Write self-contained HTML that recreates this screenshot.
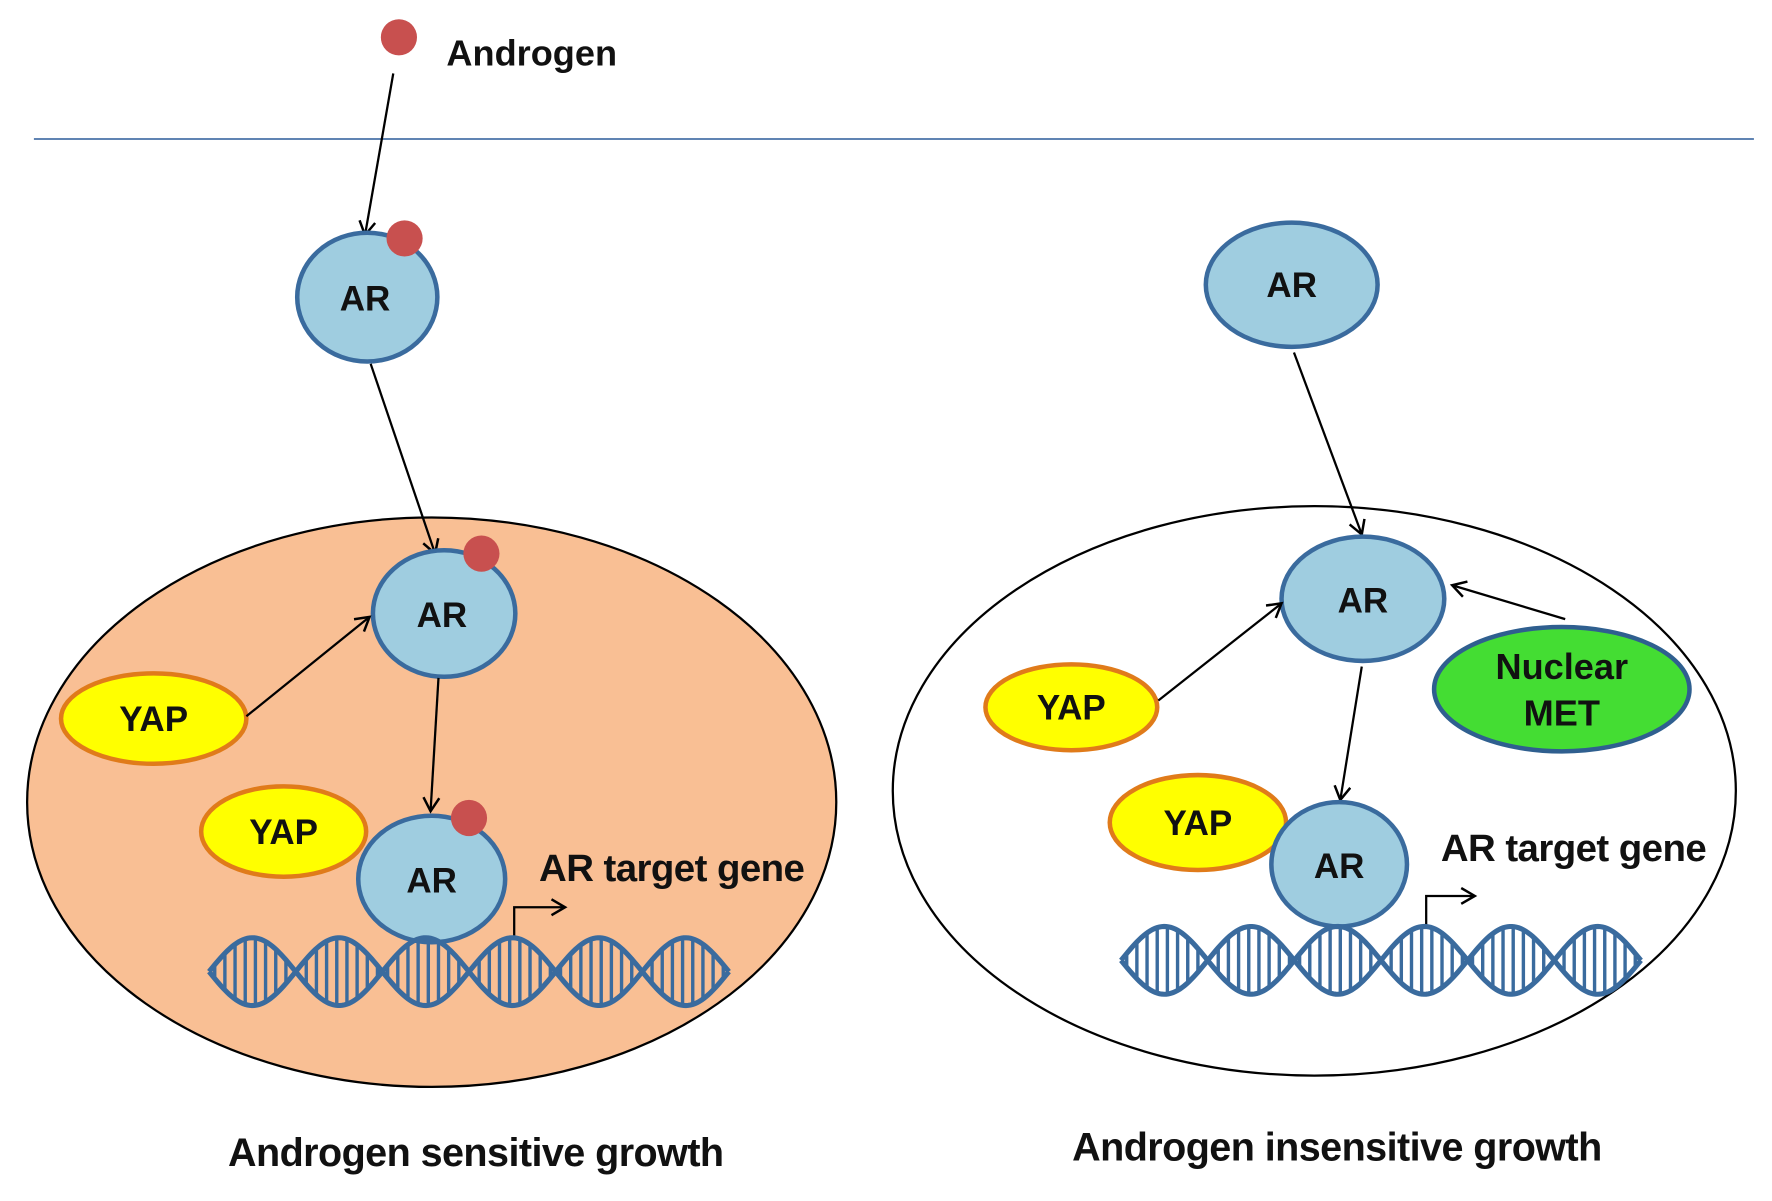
<!DOCTYPE html>
<html><head><meta charset="utf-8"><style>
html,body{margin:0;padding:0;background:#fff;}
svg{display:block;}
text{font-family:"Liberation Sans",Arial,sans-serif;font-weight:bold;fill:#111;}
</style></head><body>
<svg id="s" width="1772" height="1201" viewBox="0 0 1568 1063" preserveAspectRatio="none" xmlns="http://www.w3.org/2000/svg">
<defs><marker id="a" markerWidth="16" markerHeight="16" refX="13" refY="8" orient="auto" markerUnits="userSpaceOnUse"><path d="M1,1 L13,8 L1,15" fill="none" stroke="#000" stroke-width="2.2"/></marker></defs>
<ellipse cx="382" cy="710" rx="358" ry="252" fill="#f9bf94" stroke="#000" stroke-width="2"/>
<ellipse cx="1163" cy="700" rx="373" ry="252" fill="#fff" stroke="#000" stroke-width="2"/>
<circle cx="353" cy="33" r="16" fill="#c8504f"/>
<text x="395" y="58" font-size="32">Androgen</text>
<line x1="30" y1="123" x2="1552" y2="123" stroke="#4a72a8" stroke-width="1.5"/>
<line x1="348" y1="65" x2="323" y2="208" stroke="#000" stroke-width="2" marker-end="url(#a)"/>
<ellipse cx="325" cy="263" rx="62" ry="57" fill="#9fcde0" stroke="#3a6b9e" stroke-width="4"/>
<circle cx="358" cy="211" r="16" fill="#c8504f"/>
<text x="323" y="275" font-size="31" text-anchor="middle">AR</text>
<line x1="328" y1="322" x2="385" y2="490" stroke="#000" stroke-width="2" marker-end="url(#a)"/>
<ellipse cx="393" cy="543" rx="63" ry="56" fill="#9fcde0" stroke="#3a6b9e" stroke-width="4"/>
<circle cx="426" cy="490" r="16" fill="#c8504f"/>
<text x="391" y="555" font-size="31" text-anchor="middle">AR</text>
<ellipse cx="136" cy="636" rx="82" ry="40" fill="#ffff00" stroke="#e07b1a" stroke-width="4"/>
<text x="136" y="647" font-size="31" text-anchor="middle">YAP</text>
<line x1="218" y1="634" x2="327" y2="546" stroke="#000" stroke-width="2" marker-end="url(#a)"/>
<line x1="388" y1="600" x2="381" y2="718" stroke="#000" stroke-width="2" marker-end="url(#a)"/>
<ellipse cx="251" cy="736" rx="73" ry="40" fill="#ffff00" stroke="#e07b1a" stroke-width="4"/>
<text x="251" y="747" font-size="31" text-anchor="middle">YAP</text>
<ellipse cx="382" cy="778" rx="65" ry="56" fill="#9fcde0" stroke="#3a6b9e" stroke-width="4"/>
<circle cx="415" cy="724" r="16" fill="#c8504f"/>
<text x="382" y="790" font-size="31" text-anchor="middle">AR</text>
<text x="477" y="780" font-size="34" letter-spacing="-0.5">AR target gene</text>
<path d="M455,832 V803 H500" fill="none" stroke="#000" stroke-width="2" marker-end="url(#a)"/>
<g id="d1"></g>
<text x="421" y="1032" font-size="35" text-anchor="middle" letter-spacing="-0.5">Androgen sensitive growth</text>

<ellipse cx="1143" cy="252" rx="76" ry="55" fill="#9fcde0" stroke="#3a6b9e" stroke-width="4"/>
<text x="1143" y="263" font-size="31" text-anchor="middle">AR</text>
<line x1="1145" y1="312" x2="1205" y2="473" stroke="#000" stroke-width="2" marker-end="url(#a)"/>
<ellipse cx="1206" cy="530" rx="72" ry="55" fill="#9fcde0" stroke="#3a6b9e" stroke-width="4"/>
<text x="1206" y="542" font-size="31" text-anchor="middle">AR</text>
<ellipse cx="948" cy="626" rx="76" ry="38" fill="#ffff00" stroke="#e07b1a" stroke-width="4"/>
<text x="948" y="637" font-size="31" text-anchor="middle">YAP</text>
<line x1="1025" y1="620" x2="1134" y2="534" stroke="#000" stroke-width="2" marker-end="url(#a)"/>
<ellipse cx="1382" cy="610" rx="113" ry="55" fill="#44dd33" stroke="#2f5f8f" stroke-width="4"/>
<text x="1382" y="601" font-size="32" text-anchor="middle">Nuclear</text>
<text x="1382" y="642" font-size="32" text-anchor="middle">MET</text>
<line x1="1385" y1="548" x2="1285" y2="518" stroke="#000" stroke-width="2" marker-end="url(#a)"/>
<line x1="1205" y1="590" x2="1186" y2="708" stroke="#000" stroke-width="2" marker-end="url(#a)"/>
<ellipse cx="1060" cy="728" rx="78" ry="42" fill="#ffff00" stroke="#e07b1a" stroke-width="4"/>
<text x="1060" y="739" font-size="31" text-anchor="middle">YAP</text>
<ellipse cx="1185" cy="765" rx="60" ry="55" fill="#9fcde0" stroke="#3a6b9e" stroke-width="4"/>
<text x="1185" y="777" font-size="31" text-anchor="middle">AR</text>
<text x="1275" y="762" font-size="34" letter-spacing="-0.5">AR target gene</text>
<path d="M1262,822 V793 H1305" fill="none" stroke="#000" stroke-width="2" marker-end="url(#a)"/>
<g id="d2"></g>
<text x="1183" y="1027" font-size="35" text-anchor="middle" letter-spacing="-0.5">Androgen insensitive growth</text>
</svg>
<script>
function dna(id,x0,x1,cy){
  var g=document.getElementById(id);
  var A=30,N=3,P=(x1-x0)/N,s="",t="",r="";
  for(var x=x0;x<=x1+0.1;x+=2){
    var y=Math.sin((x-x0)/P*2*Math.PI);
    s+=(x==x0?"M":"L")+x+","+(cy+A*y);
    t+=(x==x0?"M":"L")+x+","+(cy-A*y);
  }
  for(var x=x0+5;x<x1;x+=9){
    var y=Math.abs(A*Math.sin((x-x0)/P*2*Math.PI));
    if(y>5) r+="M"+x+","+(cy-y)+"V"+(cy+y);
  }
  g.innerHTML='<path d="'+r+'" stroke="#3a6b9e" stroke-width="3" fill="none"/><path d="'+s+'" stroke="#3a6b9e" stroke-width="4.5" fill="none"/><path d="'+t+'" stroke="#3a6b9e" stroke-width="4.5" fill="none"/>';
}
dna("d1",185,645,860);
dna("d2",992,1452,850);
</script>
</body></html>
